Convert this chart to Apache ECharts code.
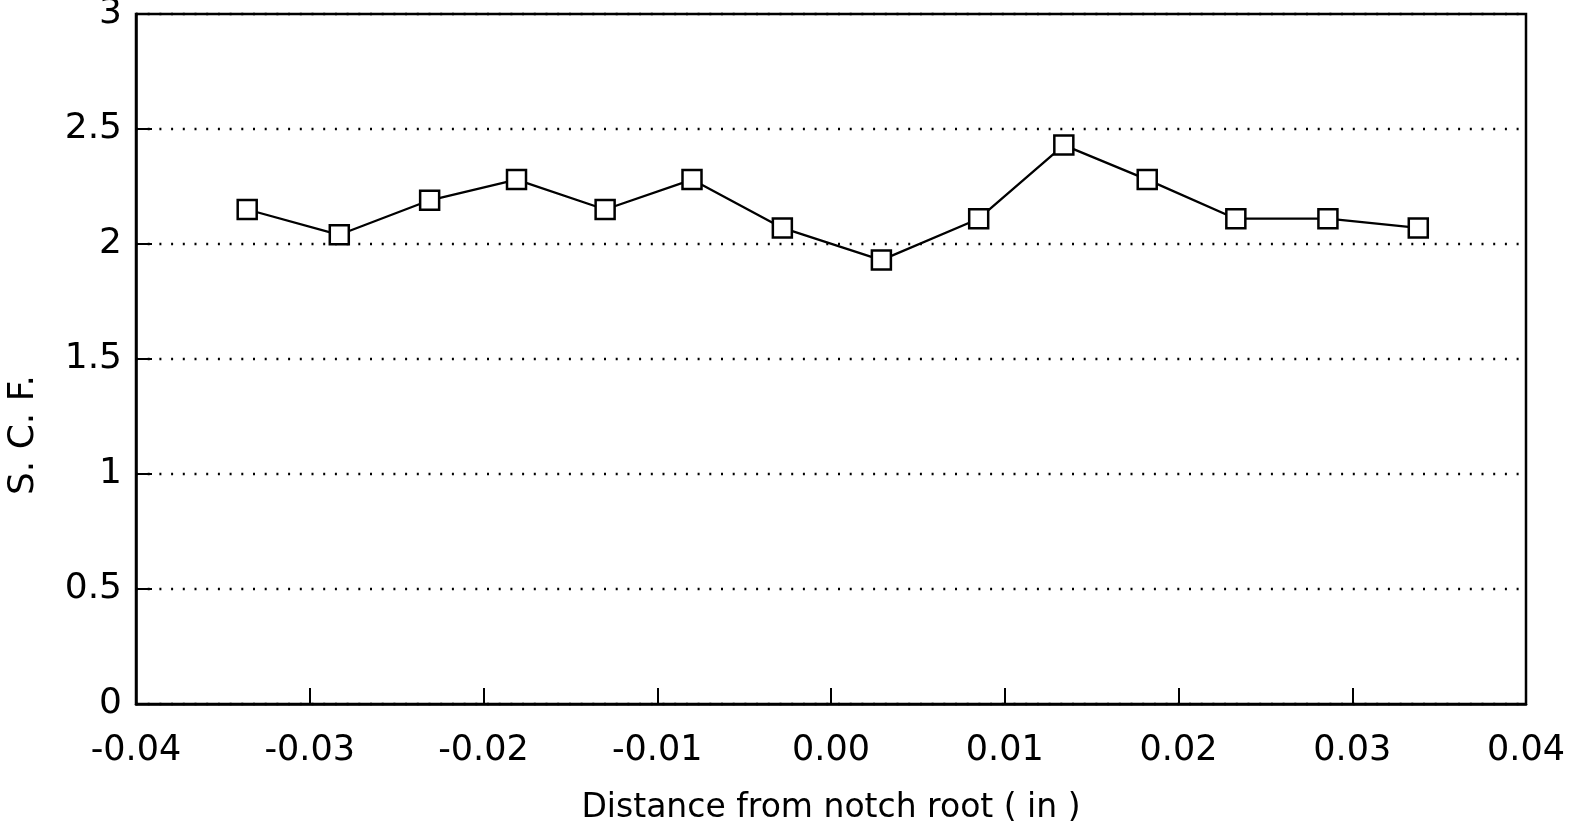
<!DOCTYPE html>
<html>
<head>
<meta charset="utf-8">
<script src="https://cdn.jsdelivr.net/npm/echarts@6/dist/echarts.min.js"></script>
<style>
    html, body { margin: 0; padding: 0; background: #fff; }
    #chart { width: 1570px; height: 824px; }
</style>
</head>
<body>
<div id="chart"></div>
<script>
// distance from notch root (in) and stress concentration factor
const distance = [-0.0336, -0.0283, -0.0231, -0.0181, -0.0130, -0.0080, -0.0028,
    0.0029, 0.0085, 0.0134, 0.0182, 0.0233, 0.0286, 0.0338];
const scf = [2.15, 2.04, 2.19, 2.28, 2.15, 2.28, 2.07,
    1.93, 2.11, 2.43, 2.28, 2.11, 2.11, 2.07];

const xTitle = 'Distance from notch root ( in )';
const yTitle = 'S. C. F.';

const font = 'DejaVu Sans';

const chart = echarts.init(document.getElementById('chart'));

chart.setOption({
    animation: false,
    backgroundColor: '#fff',
    grid: {
        left: 136,
        right: 44,
        top: 14,
        bottom: 120,
        outerBoundsMode: 'none', // keep the plot box fixed, the last x label may touch the edge
        show: true,
        borderColor: '#000',
        borderWidth: 2.5
    },
    xAxis: {
        type: 'value',
        min: -0.04,
        max: 0.04,
        interval: 0.01,
        name: xTitle,
        nameLocation: 'middle',
        nameGap: 88,
        nameTextStyle: { fontFamily: font, fontSize: 33, color: '#000' },
        axisLine: { show: true, onZero: false, lineStyle: { color: '#000', width: 2.5 } },
        axisTick: { show: true, inside: true, length: 16, lineStyle: { color: '#000', width: 2 } },
        axisLabel: {
            fontFamily: font, fontSize: 35, color: '#000', margin: 29,
            formatter: v => (Math.abs(v) < 1e-9 ? 0 : v).toFixed(2)
        },
        splitLine: { show: false }
    },
    yAxis: {
        type: 'value',
        min: 0,
        max: 3,
        interval: 0.5,
        axisLine: { show: true, onZero: false, lineStyle: { color: '#000', width: 2.5 } },
        axisTick: { show: true, inside: true, length: 16, lineStyle: { color: '#000', width: 2 } },
        axisLabel: { fontFamily: font, fontSize: 36, color: '#000', margin: 14 },
        splitLine: {
            show: true,
            lineStyle: { color: '#000', width: 2.4, type: [2, 9.7] }
        }
    },
    graphic: [{
        type: 'text',
        x: 24,
        y: 435,
        rotation: Math.PI / 2,
        style: {
            text: yTitle,
            font: '36px "DejaVu Sans"',
            fill: '#000',
            align: 'center',
            verticalAlign: 'middle'
        }
    }],
    series: [{
        type: 'line',
        data: distance.map((d, i) => [d, scf[i]]),
        symbol: 'rect',
        symbolSize: 19,
        showAllSymbol: true,
        lineStyle: { color: '#000', width: 2.3 },
        itemStyle: { color: '#fff', borderColor: '#000', borderWidth: 2.5 }
    }]
});

window.addEventListener('resize', () => chart.resize());
</script>
</body>
</html>
